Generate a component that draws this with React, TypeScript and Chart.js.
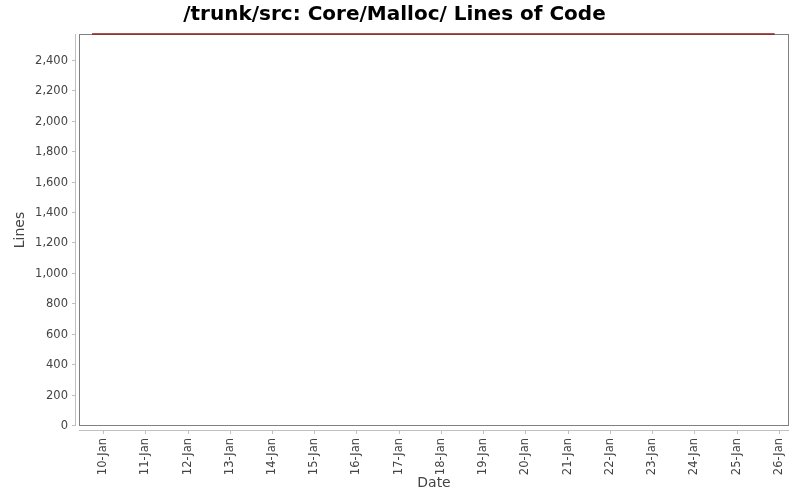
import { useEffect, useRef } from "react"
import { Chart, registerables } from "chart.js"

Chart.register(...registerables)

// Day of January for each sample, and lines of code at that day
const days = [9.74, 25.9]
const lines = [2577, 2577]

// Tick positions / labels
const dayTicks = [10, 11, 12, 13, 14, 15, 16, 17, 18, 19, 20, 21, 22, 23, 24, 25, 26]
const dayLabels = [
  "10-Jan", "11-Jan", "12-Jan", "13-Jan", "14-Jan", "15-Jan", "16-Jan", "17-Jan", "18-Jan",
  "19-Jan", "20-Jan", "21-Jan", "22-Jan", "23-Jan", "24-Jan", "25-Jan", "26-Jan",
]
const lineTicks = [0, 200, 400, 600, 800, 1000, 1200, 1400, 1600, 1800, 2000, 2200, 2400]

const FONT = "'DejaVu Sans', sans-serif"

// JFreeChart-like plot frame with detached axis lines
const plotFrame = {
  id: "plotFrame",
  beforeDatasetsDraw(chart: Chart) {
    const { ctx, chartArea: a } = chart
    const xs = chart.scales.x
    const ys = chart.scales.y
    ctx.save()
    ctx.lineWidth = 1

    ctx.strokeStyle = "#808080"
    ctx.strokeRect(a.left + 0.5, a.top + 0.5, a.right - a.left - 1, a.bottom - a.top - 1)

    ctx.strokeStyle = "#c0c0c0"
    ctx.beginPath()
    // y axis
    ctx.moveTo(a.left - 3.5, a.top)
    ctx.lineTo(a.left - 3.5, a.bottom)
    lineTicks.forEach((v) => {
      const y = Math.round(ys.getPixelForValue(v)) - 0.5
      ctx.moveTo(a.left - 3.5, y)
      ctx.lineTo(a.left - 7, y)
    })
    // x axis
    ctx.moveTo(a.left, a.bottom + 4.5)
    ctx.lineTo(a.right, a.bottom + 4.5)
    dayTicks.forEach((v) => {
      const x = Math.round(xs.getPixelForValue(v)) + 0.5
      ctx.moveTo(x, a.bottom + 4.5)
      ctx.lineTo(x, a.bottom + 8)
    })
    ctx.stroke()
    ctx.restore()
  },
}

export default function App() {
  const chartRef = useRef<HTMLCanvasElement>(null)
  const chartInstance = useRef<Chart | null>(null)

  useEffect(() => {
    if (!chartRef.current) return
    if (chartInstance.current) chartInstance.current.destroy()

    const ctx = chartRef.current.getContext("2d")
    if (!ctx) return

    chartInstance.current = new Chart(ctx, {
      type: "line",
      data: {
        datasets: [
          {
            label: "Lines",
            data: days.map((d, i) => ({ x: d, y: lines[i] })),
            borderColor: "#8c1c1c",
            borderWidth: 1.5,
            pointRadius: 0,
            tension: 0,
            clip: false,
          },
        ],
      },
      options: {
        responsive: false,
        animation: false,
        layout: { padding: { left: 0, right: 11, top: 0, bottom: 0 } },
        plugins: {
          legend: { display: false },
          tooltip: { enabled: false },
          title: {
            display: true,
            text: "/trunk/src: Core/Malloc/ Lines of Code",
            color: "#000000",
            font: { family: FONT, size: 20, weight: "bold" },
            padding: { top: 3, bottom: 7 },
          },
        },
        scales: {
          x: {
            type: "linear",
            min: 9.43,
            max: 26.24,
            grid: { display: false, drawTicks: false },
            border: { display: false },
            afterBuildTicks: (scale) => {
              scale.ticks = dayTicks.map((v) => ({ value: v }))
            },
            afterFit: (scale) => {
              scale.height = 74
              scale.paddingLeft = 0
              scale.paddingRight = 0
            },
            ticks: {
              autoSkip: false,
              minRotation: 90,
              maxRotation: 90,
              padding: 12,
              color: "#444444",
              font: { family: FONT, size: 11.5 },
              callback: (_v, i) => dayLabels[i],
            },
            title: {
              display: true,
              text: "Date",
              color: "#444444",
              font: { family: FONT, size: 14 },
              padding: { top: 0, bottom: 8 },
            },
          },
          y: {
            type: "linear",
            min: 0,
            max: Math.max(...lines),
            grid: { display: false, drawTicks: false },
            border: { display: false },
            afterBuildTicks: (scale) => {
              scale.ticks = lineTicks.map((v) => ({ value: v }))
            },
            afterFit: (scale) => {
              scale.width = 79
              scale.paddingTop = 0
              scale.paddingBottom = 0
            },
            ticks: {
              padding: 11,
              color: "#444444",
              font: { family: FONT, size: 11.5 },
              callback: (v) => Number(v).toLocaleString("en-US"),
            },
            title: {
              display: true,
              text: "Lines",
              color: "#444444",
              font: { family: FONT, size: 14 },
              padding: { top: 11.5, bottom: 0 },
            },
          },
        },
      },
      plugins: [plotFrame],
    })

    return () => {
      if (chartInstance.current) {
        chartInstance.current.destroy()
        chartInstance.current = null
      }
    }
  }, [])

  return (
    <div style={{ position: "absolute", left: 0, top: 0, width: 800, height: 500, background: "#ffffff" }}>
      <canvas ref={chartRef} width={800} height={500} />
    </div>
  )
}
